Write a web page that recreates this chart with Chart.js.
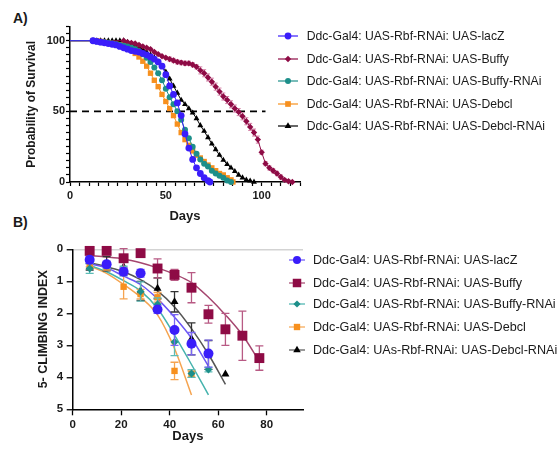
<!DOCTYPE html>
<html>
<head>
<meta charset="utf-8">
<script src="https://cdn.jsdelivr.net/npm/chart.js@4.4.0/dist/chart.umd.min.js"></script>
<style>
  body { margin: 0; background: #fff; width: 557px; height: 451px; position: relative; overflow: hidden;
         font-family: Arial, "Liberation Sans", sans-serif; color: #1a1a1a; }
  canvas { position: absolute; left: 0; }
  #chartA { top: 0; }
  #chartB { top: 225px; }
  .panel { position: absolute; left: 13px; font-weight: bold; font-size: 14px; }
  .lg { position: absolute; white-space: nowrap; height: 16px; }
  .lg svg { position: absolute; left: 0; top: 0; }
  .lg span { position: absolute; top: 0; line-height: 16px; }
</style>
</head>
<body>
<div class="panel" style="top:10px">A)</div>
<div class="panel" style="top:214px">B)</div>
<canvas id="chartA" width="305" height="225"></canvas>
<canvas id="chartB" width="310" height="226"></canvas>
<script>
// ---------- A) survival ----------
const lacZDaysA = [0,12,14,16,18,20,22,24,26,28,30,32,34,36,38,40,42,44,46,48,50,52,54,56,58,60,62,64,66,68,70,72,73];
const lacZA = [100,100,99.5,99,98.5,98,97.5,97,96,95,94,93,92.5,92,91,90,88.5,87,85,82,76,68,62,56,47,34,24,16,10,6,3,1,0];

const buffyDaysA = [0,28,30,32,34,36,38,40,42,44,46,48,50,52,54,56,58,60,62,64,66,68,70,72,74,76,78,80,82,84,86,88,90,92,94,96,98,100,102,104,106,108,110,112,114,116];
const buffyA = [100,100,99,98.5,98,97,96,95,94,92,90.5,89,88,87,86,85,84.5,84,84,83,81.5,79,77,74,71,67.5,64,60.5,58,55,52,49.5,46.5,43,39,35,30,21,13,10,8,6,3.5,1.5,0.5,0];
const buffyErrA = [0,0.8,0.8,0.8,0.8,0.8,0.8,0.8,0.8,0.8,0.8,0.8,0.8,1.5,1.5,1.5,1.5,1.5,1.5,1.5,1.5,2.5,2.5,2.5,2.5,2.5,2.5,2.5,2.5,2.5,2.5,2.5,2.5,2.5,2.5,2.5,2.5,1.5,1.5,1.5,1.5,1.5,1.5,1,1,0];

const buffyRnaiDaysA = [0,12,14,16,18,20,22,24,26,28,30,32,34,36,38,40,42,44,46,48,50,52,54,56,58,60,62,64,66,68,70,72,74,76,78,80,82,84];
const buffyRnaiA = [100,100,99.5,99,99,98.5,98,97.5,97,96.5,96,95,94,92.5,90.5,88,85,81,77,72,66,60,55,50,44,37,31,25,20,16,13,11,8,6,4.5,3,1,0];

const debclDaysA = [0,14,16,18,20,22,24,26,28,30,32,34,36,38,40,42,44,46,48,50,52,54,56,58,60,62,64,66,68,70,72,74,76,78,80,82,84,85];
const debclA = [100,100,99.5,99,98.5,98,97.5,97,96,95,93.5,91,88.5,85.5,82,77,72,67.5,62,57,52,47,41,35,30,26,22,19,17,14.5,12,10,8,6,5,3,1.5,0];

const debclRnaiDaysA = [0,12,14,16,18,20,22,24,26,28,30,32,34,36,38,40,42,44,46,48,50,52,54,56,58,60,62,64,66,68,70,72,74,76,78,80,82,84,86,88,90,92,94,96];
const debclRnaiA = [100,100,100,100,100,100,100,100,100,100,99,98,97,95.5,94,92,90,88,85,82,78,73,68,63,58,55,52,49,45,40,36,31.5,27,23,19,15.5,12.5,10,7.5,5,3,1.5,0.8,0];

const medianDays = [0, 102];
const medianLevel = 50;

const survivalDayTicks = [0,5,10,15,20,25,30,35,40,45,50,55,60,65,70,75,80,85,90,95,100,105,110,115,120];
const survivalDayLabels = [0, 50, 100];
const survivalTicks = [0,5,10,15,20,25,30,35,40,45,50,55,60,65,70,75,80,85,90,95,100,105,110];
const survivalLabels = [0, 50, 100];

// ---------- B) climbing ----------
const climbDays = [7,14,21,28,35,42,49,56,63,70,77];
const climbDayTicks = [0,20,40,60,80];
const climbTicks = [0,1,2,3,4,5];

const lacZB = [0.33,0.47,0.7,0.75,1.88,2.52,2.95,3.26];
const lacZErrB = [0.1,0.1,0.12,0.12,0.12,0.48,0.35,0.42];
const lacZFit = [0.45,0.58,0.84,1.1,1.55,2.12,2.78,3.65];

const buffyB = [0.05,0.05,0.28,0.12,0.6,0.8,1.2,2.03,2.5,2.7,3.4];
const buffyErrB = [0.05,0.05,0.3,0.05,0.3,0.17,0.47,0.28,0.5,0.77,0.38];
const buffyFit = [0.2,0.24,0.3,0.42,0.58,0.78,1.04,1.5,2.05,2.68,3.5];

const buffyRnaiB = [0.6,0.5,0.68,1.32,1.72,2.9,3.88,3.76];
const buffyRnaiErrB = [0.15,0.1,0.15,0.3,0.2,0.42,0.12,0.07];
const buffyRnaiFit = [0.5,0.7,0.98,1.3,1.85,2.68,3.6,4.55];

const debclB = [0.45,0.55,1.17,1.4,1.5,3.8,3.9];
const debclErrB = [0.1,0.1,0.38,0.15,0.15,0.27,0.1];
const debclFit = [0.52,0.75,1.1,1.5,2.05,3.1,4.55];

const debclRnaiB = [0.55,0.45,0.55,1.3,1.22,1.64,2.8,3.3,3.9];
const debclRnaiErrB = [0.1,0.22,0.15,0.3,0.33,0.32,0.5,0.45,0];
const debclRnaiFit = [0.42,0.55,0.7,0.95,1.3,1.8,2.48,3.28,4.22];

const labelsA = [
  "Ddc-Gal4: UAS-Rbf-RNAi: UAS-lacZ",
  "Ddc-Gal4: UAS-Rbf-RNAi: UAS-Buffy",
  "Ddc-Gal4: UAS-Rbf-RNAi: UAS-Buffy-RNAi",
  "Ddc-Gal4: UAS-Rbf-RNAi: UAS-Debcl",
  "Ddc-Gal4: UAS-Rbf-RNAi: UAS-Debcl-RNAi",
];
const labelsB = [
  "Ddc-Gal4: UAS-Rbf-RNAi: UAS-lacZ",
  "Ddc-Gal4: UAS-Rbf-RNAi: UAS-Buffy",
  "Ddc-Gal4: UAS-Rbf-RNAi: UAS-Buffy-RNAi",
  "Ddc-Gal4: UAS-Rbf-RNAi: UAS-Debcl",
  "Ddc-Gal4: UAs-Rbf-RNAi: UAS-Debcl-RNAi",
];

const BLUE = "#3a1dfa", MAROON = "#8e0b45", TEAL = "#1d8f8a", ORANGE = "#f7901e", BLACK = "#000";
const fitColors = ["#6a55f5", "#a5466f", "#45b3ad", "#f5a450", "#555"];
const errColors = ["#7a66f5", "#b85a84", "#5cbcb6", "#f5a450", "#333"];

Chart.defaults.font.family = 'Arial, "Liberation Sans", sans-serif';
Chart.defaults.color = "#1a1a1a";

const pts = (days, vals) => days.map((d, i) => ({ x: d, y: vals[i] }));
const fixTicks = (list) => (s) => { s.ticks = list.map((v) => ({ value: v })); };

// error bars, drawn under each dataset's own markers
const errorBars = {
  id: "errorBars",
  beforeDatasetDraw(chart, args) {
    const ds = chart.data.datasets[args.index];
    if (!ds.errors) return;
    const yScale = chart.scales[args.meta.yAxisID];
    const c = chart.ctx;
    c.save();
    c.strokeStyle = ds.errorColor;
    c.lineWidth = ds.errorWidth || 1;
    args.meta.data.forEach((pt, i) => {
      const e = ds.errors[i];
      if (!e) return;
      const v = ds.data[i].y;
      const t = yScale.getPixelForValue(v - e), b = yScale.getPixelForValue(v + e);
      const w = ds.capWidth / 2;
      c.beginPath();
      c.moveTo(pt.x, t); c.lineTo(pt.x, b);
      c.moveTo(pt.x - w, t); c.lineTo(pt.x + w, t);
      c.moveTo(pt.x - w, b); c.lineTo(pt.x + w, b);
      c.stroke();
    });
    c.restore();
  },
};

function survSet(label, days, vals, color, shape, r, order) {
  return {
    label, data: pts(days, vals), borderColor: color, backgroundColor: color,
    borderWidth: 1, pointStyle: shape, pointRadius: days.map((d) => (d === 0 ? 0 : r)),
    pointBorderWidth: 0, tension: 0, clip: false, order,
  };
}

const buffySetA = survSet(labelsA[1], buffyDaysA, buffyA, MAROON, "rectRot", 3.2, 3);
buffySetA.errors = buffyErrA;
buffySetA.errorColor = "#d47fa5";
buffySetA.capWidth = 4;

new Chart(document.getElementById("chartA"), {
  type: "line",
  data: {
    datasets: [
      survSet(labelsA[0], lacZDaysA, lacZA, BLUE, "circle", 3.4, 0),
      buffySetA,
      survSet(labelsA[2], buffyRnaiDaysA, buffyRnaiA, TEAL, "circle", 3, 1),
      survSet(labelsA[3], debclDaysA, debclA, ORANGE, "rect", 3.8, 2),
      survSet(labelsA[4], debclRnaiDaysA, debclRnaiA, BLACK, "triangle", 3.4, 4),
      {
        label: "median", data: medianDays.map((d) => ({ x: d, y: medianLevel })),
        borderColor: "#000", borderWidth: 1.6, borderDash: [7, 5], pointRadius: 0, order: 5,
      },
    ],
  },
  options: {
    responsive: false, animation: false, devicePixelRatio: 1,
    layout: { padding: { top: 26.6, right: 5, left: 0, bottom: 0 } },
    plugins: { legend: { display: false }, tooltip: { enabled: false } },
    scales: {
      x: {
        type: "linear", min: 0, max: 120,
        afterBuildTicks: fixTicks(survivalDayTicks),
        afterFit: (s) => { s.height = 43; },
        border: { color: "#000", width: 1.5 },
        grid: { drawOnChartArea: false, tickLength: 4, tickColor: "#000", tickWidth: 1.2 },
        ticks: {
          autoSkip: false, maxRotation: 0, padding: 3, font: { size: 11, weight: "bold" },
          callback: (v) => (survivalDayLabels.includes(v) ? v : ""),
        },
        title: { display: true, text: "Days", font: { size: 13, weight: "bold" }, padding: { top: 0, bottom: 1.2 } },
      },
      y: {
        min: 0, max: 110,
        afterBuildTicks: fixTicks(survivalTicks),
        afterFit: (s) => { s.width = 70; },
        border: { color: "#000", width: 1.5 },
        grid: { drawOnChartArea: false, tickLength: 4, tickColor: "#000", tickWidth: 1.2 },
        ticks: {
          autoSkip: false, padding: 1, font: { size: 11, weight: "bold" },
          callback: (v) => (survivalLabels.includes(v) ? v : ""),
        },
        title: { display: true, text: "Probability of Survival", font: { size: 12, weight: "bold" }, padding: { top: 24.5, bottom: 0 } },
      },
    },
  },
  plugins: [errorBars],
});

function climbSet(label, vals, errs, color, shape, r, order, errColor) {
  return {
    label, data: pts(climbDays.slice(0, vals.length), vals), showLine: false,
    backgroundColor: color, borderColor: color, pointStyle: shape, pointRadius: r,
    pointBorderWidth: 0, clip: false, order,
    errors: errs, errorColor: errColor, errorWidth: 1.3, capWidth: 8,
  };
}
function fitSet(vals, color, order) {
  return {
    label: "fit", data: pts(climbDays.slice(0, vals.length), vals),
    borderColor: color, borderWidth: 1.5, pointRadius: 0, cubicInterpolationMode: "monotone",
    clip: false, order,
  };
}

new Chart(document.getElementById("chartB"), {
  type: "line",
  data: {
    datasets: [
      climbSet(labelsB[0], lacZB, lacZErrB, BLUE, "circle", 5, 0, errColors[0]),
      climbSet(labelsB[1], buffyB, buffyErrB, MAROON, "rect", 7, 1, errColors[1]),
      climbSet(labelsB[2], buffyRnaiB, buffyRnaiErrB, TEAL, "rectRot", 4, 2, errColors[2]),
      climbSet(labelsB[3], debclB, debclErrB, ORANGE, "rect", 4.5, 3, errColors[3]),
      climbSet(labelsB[4], debclRnaiB, debclRnaiErrB, BLACK, "triangle", 4.6, 4, errColors[4]),
      fitSet(lacZFit, fitColors[0], 6),
      fitSet(buffyFit, fitColors[1], 6),
      fitSet(buffyRnaiFit, fitColors[2], 6),
      fitSet(debclFit, fitColors[3], 6),
      fitSet(debclRnaiFit, fitColors[4], 6),
    ],
  },
  options: {
    responsive: false, animation: false, devicePixelRatio: 1,
    layout: { padding: { top: 24.3, right: 5, left: 0, bottom: 0 } },
    plugins: { legend: { display: false }, tooltip: { enabled: false } },
    scales: {
      x: {
        type: "linear", min: 0, max: 95,
        afterBuildTicks: fixTicks(climbDayTicks),
        afterFit: (s) => { s.height = 41.7; },
        border: { color: "#000", width: 1.5 },
        grid: { drawOnChartArea: false, tickLength: 6, tickColor: "#000", tickWidth: 1.3 },
        ticks: { autoSkip: false, maxRotation: 0, padding: 3, font: { size: 11.5, weight: "bold" } },
        title: { display: true, text: "Days", font: { size: 13, weight: "bold" }, padding: { top: 0, bottom: 7 } },
      },
      y: {
        reverse: true, min: 0, max: 5,
        afterBuildTicks: fixTicks(climbTicks),
        afterFit: (s) => { s.width = 72.7; },
        border: { color: "#000", width: 1.5 },
        grid: {
          drawOnChartArea: true, tickLength: 6, tickColor: "#000", tickWidth: 1.3, lineWidth: 1.5,
          color: (c) => (c.tick && c.tick.value === 0 ? "#d3d3d3" : "rgba(0,0,0,0)"),
        },
        ticks: { autoSkip: false, padding: 3.5, font: { size: 11.5, weight: "bold" } },
        title: { display: true, text: "5- CLIMBING INDEX", font: { size: 12.5, weight: "bold" }, padding: { top: 35.8, bottom: 0 } },
      },
    },
  },
  plugins: [errorBars],
});

// ---------- HTML legends ----------
function marker(shape, cx, cy, r, color) {
  if (shape === "circle") return `<circle cx="${cx}" cy="${cy}" r="${r}" fill="${color}"/>`;
  if (shape === "rect") {
    const s = r * Math.SQRT1_2;
    return `<rect x="${cx - s}" y="${cy - s}" width="${2 * s}" height="${2 * s}" fill="${color}"/>`;
  }
  if (shape === "rectRot")
    return `<polygon points="${cx},${cy - r} ${cx + r},${cy} ${cx},${cy + r} ${cx - r},${cy}" fill="${color}"/>`;
  const h = r * 1.5;
  return `<polygon points="${cx},${cy - r} ${cx + h * 0.6},${cy + r * 0.55} ${cx - h * 0.6},${cy + r * 0.55}" fill="${color}"/>`;
}

function addLegend(labels, items, x0, x1, tx, rows, size) {
  labels.forEach((text, i) => {
    const it = items[i];
    const row = document.createElement("div");
    row.className = "lg";
    row.style.left = x0 + "px";
    row.style.top = rows[i] - 8 + "px";
    row.style.fontSize = size + "px";
    const w = x1 - x0;
    row.innerHTML =
      `<svg width="${w}" height="16"><line x1="0" y1="8" x2="${w}" y2="8" stroke="${it.line}" stroke-width="1.2"/>` +
      marker(it.shape, w / 2, 8, it.r, it.color) + `</svg>` +
      `<span style="left:${tx - x0}px">${text}</span>`;
    document.body.appendChild(row);
  });
}

addLegend(labelsA, [
  { shape: "circle", r: 3.4, color: BLUE, line: BLUE },
  { shape: "rectRot", r: 3.2, color: MAROON, line: MAROON },
  { shape: "circle", r: 3, color: TEAL, line: TEAL },
  { shape: "rect", r: 4, color: ORANGE, line: ORANGE },
  { shape: "triangle", r: 3.8, color: BLACK, line: BLACK },
], 278, 298, 306.7, [36, 58.5, 81, 103.5, 126], 12.2);

addLegend(labelsB, [
  { shape: "circle", r: 4, color: BLUE, line: fitColors[0] },
  { shape: "rect", r: 6, color: MAROON, line: fitColors[1] },
  { shape: "rectRot", r: 3.6, color: TEAL, line: fitColors[2] },
  { shape: "rect", r: 4.5, color: ORANGE, line: fitColors[3] },
  { shape: "triangle", r: 4.2, color: BLACK, line: fitColors[4] },
], 289, 305, 313, [259.5, 282.5, 304, 326.5, 349.5], 12.6);
</script>
</body>
</html>
